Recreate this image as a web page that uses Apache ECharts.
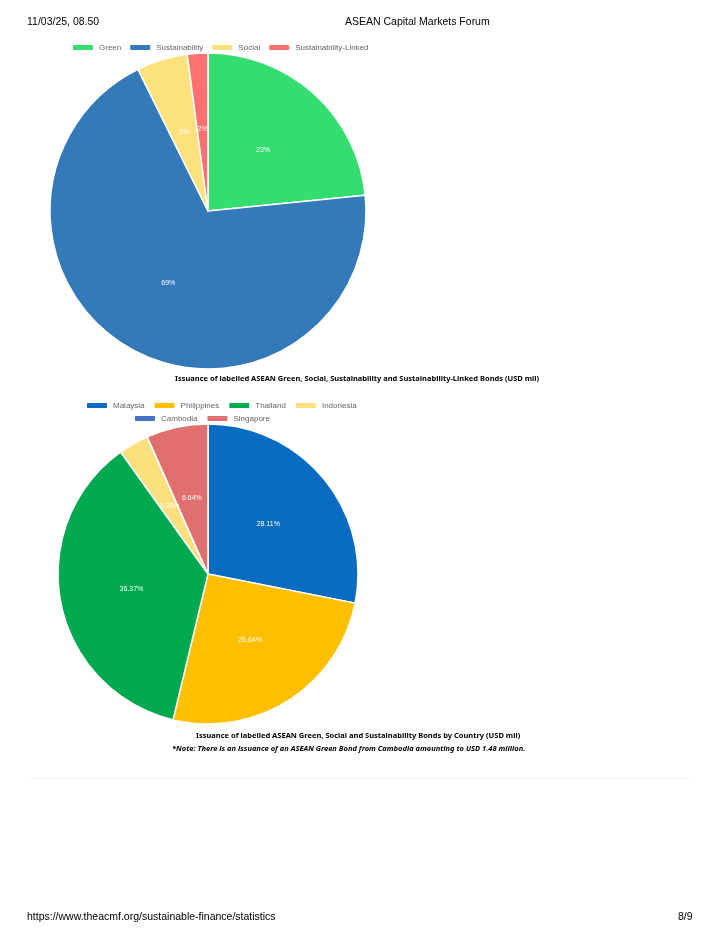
<!DOCTYPE html>
<html>
<head>
<meta charset="utf-8">
<script src="https://cdn.jsdelivr.net/npm/echarts@6/dist/echarts.min.js"></script>
<style>
  html, body { margin: 0; padding: 0; background: #fff; }
  #main { width: 720px; height: 940px; }
</style>
</head>
<body>
<div id="main"></div>
<script>
// 图1：按类型（百分比）
const typeNames = ["Green", "Sustainability", "Social", "Sustainability-Linked"];
const typeValues = [23.4, 69.3, 5.2, 2.1];
const typeColors = ["#35dc6f", "#3479b8", "#fde17c", "#fb7171"];

// 图2：按国家
const countryNames = ["Malaysia", "Philippines", "Thailand", "Indonesia", "Cambodia", "Singapore"];
const countryValues = [28.11, 25.64, 36.37, 3.23, 0.01, 6.64];
const countryColors = ["#0a6cc0", "#fdbf00", "#00a94f", "#fde07e", "#4472c4", "#e07070"];

const chart = echarts.init(document.getElementById("main"));
const txt = (x, y, s, style) => ({ type: "text", left: x, top: y, style: Object.assign({ text: s, fill: "#000", font: "10.5px Liberation Sans" }, style) });
const legendText = { fontSize: 8, color: "#666", fontFamily: "Liberation Sans" };
const legendBase = { itemWidth: 22, itemHeight: 7, itemGap: 8, textStyle: legendText };

chart.setOption({
  animation: false,
  legend: [
    Object.assign({}, legendBase, { data: typeNames, top: 38, left: 66, itemGap: 7 }),
    Object.assign({}, legendBase, { data: countryNames.slice(0, 4), top: 396, left: 80 }),
    Object.assign({}, legendBase, { data: countryNames.slice(4), top: 409, left: 128 })
  ],
  graphic: [
    txt(27, 17, "11/03/25, 08.50"),
    txt(345, 17, "ASEAN Capital Markets Forum"),
    txt(27, 912, "https://www.theacmf.org/sustainable-finance/statistics"),
    txt(678, 912, "8/9"),
    { type: "text", left: 175, top: 375, style: { text: "Issuance of labelled ASEAN Green, Social, Sustainability and Sustainability-Linked Bonds (USD mil)", font: "bold 7.5px Noto Sans", fill: "#000" } },
    { type: "text", left: 196, top: 732, style: { text: "Issuance of labelled ASEAN Green, Social and Sustainability Bonds by Country (USD mil)", font: "bold 7.5px Noto Sans", fill: "#000" } },
    { type: "text", left: 172, top: 745, style: { text: "*Note: There is an issuance of an ASEAN Green Bond from Cambodia amounting to USD 1.48 million.", font: "italic bold 7.5px Noto Sans", fill: "#000" } },
    { type: "line", shape: { x1: 30, y1: 778, x2: 690, y2: 778 }, style: { stroke: "#eee", lineWidth: 1 } }
  ],
  series: [
    {
      type: "pie", center: [208, 211], radius: 158, startAngle: 90, clockwise: true,
      data: typeNames.map((n, i) => ({ name: n, value: typeValues[i], itemStyle: { color: typeColors[i] } })),
      itemStyle: { borderColor: "#fff", borderWidth: 1.5 },
      label: { position: "inside", color: "#fff", fontSize: 7, fontFamily: "Liberation Sans", formatter: p => Math.round(p.value) + "%" },
      labelLine: { show: false }
    },
    {
      type: "pie", center: [208, 574], radius: 150, startAngle: 90, clockwise: true,
      data: countryNames.map((n, i) => ({ name: n, value: countryValues[i], itemStyle: { color: countryColors[i] } })),
      itemStyle: { borderColor: "#fff", borderWidth: 1.5 },
      label: { position: "inside", color: "#fff", fontSize: 7, fontFamily: "Liberation Sans", formatter: p => p.value + "%" },
      labelLine: { show: false }
    }
  ]
});
</script>
</body>
</html>
